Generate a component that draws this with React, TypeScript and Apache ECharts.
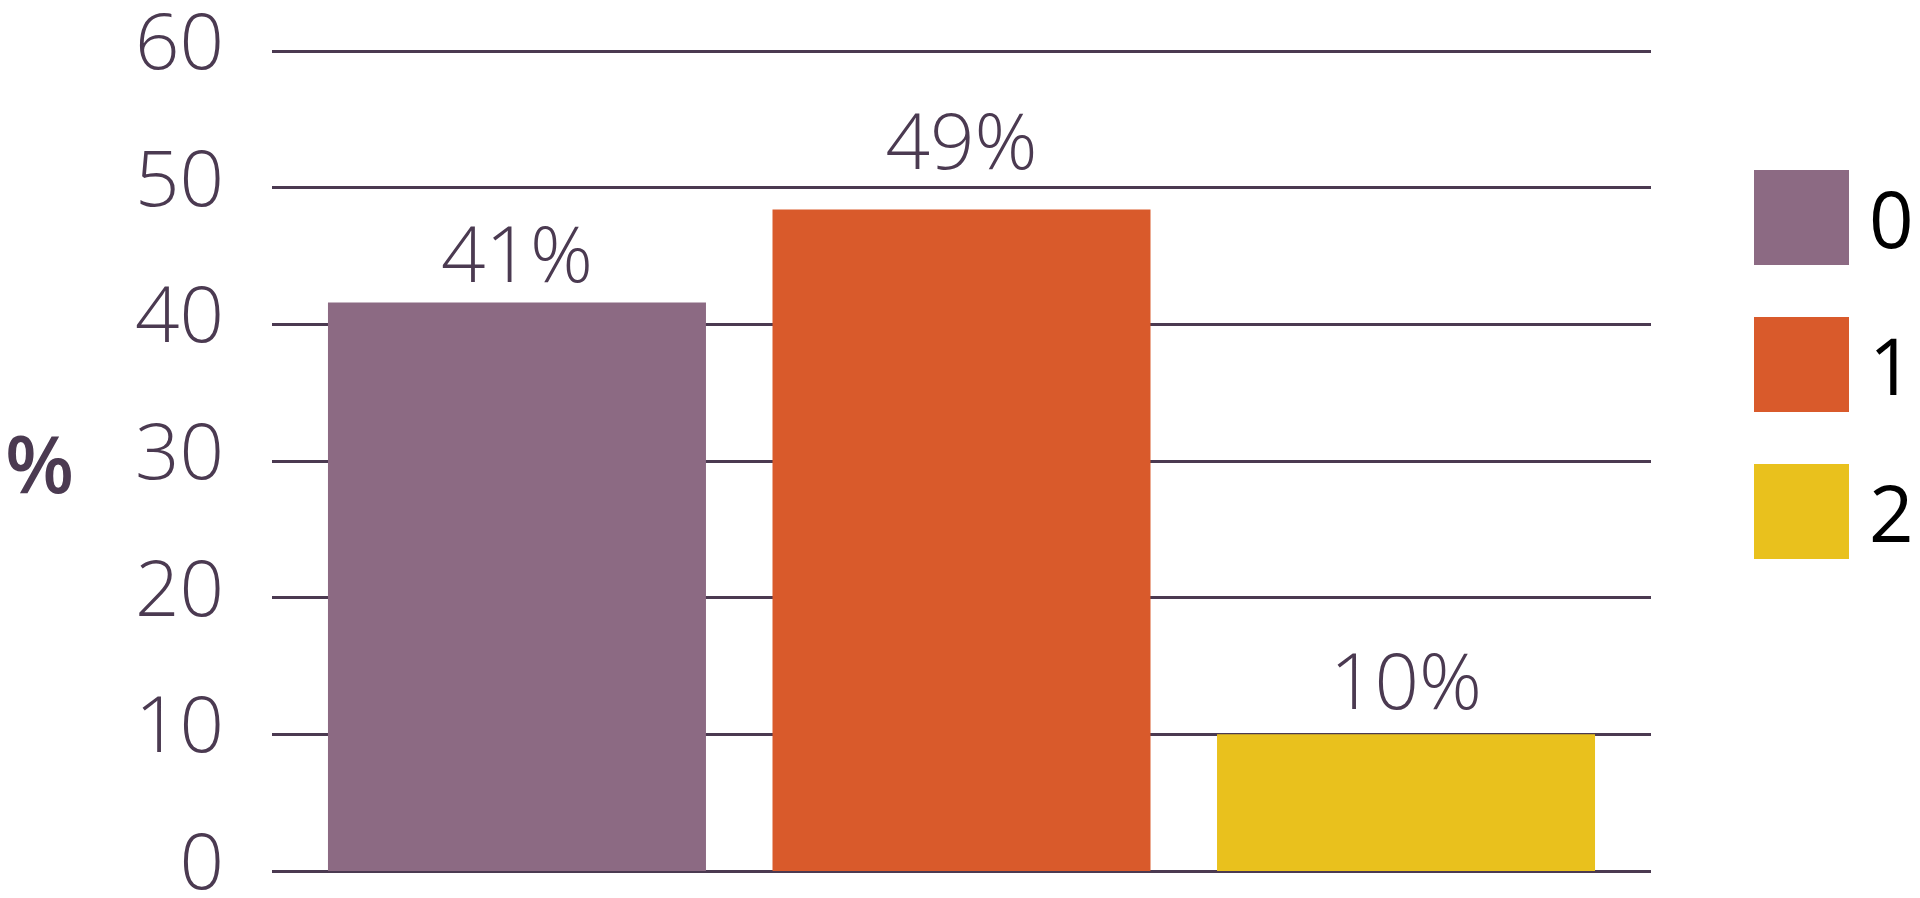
import React, { useEffect, useRef } from "react";
import * as echarts from "echarts";

const seriesNames = ["0", "1", "2"];
const seriesValues = [41.6, 48.4, 10.0];
const valueLabels = ["41%", "49%", "10%"];
const seriesColors = ["#8c6a83", "#d95a2b", "#e9c11d"];
const labelDistances = [11, 32, 16];
const yTicks = { min: 0, max: 60, interval: 10 };

const INK = "#4b3a51";
const FONT = "'Open Sans', sans-serif";

export default function App() {
  const ref = useRef<HTMLDivElement>(null);

  useEffect(() => {
    document.body.style.margin = "0";
    const chart = echarts.init(ref.current!, null, { renderer: "svg" });
    chart.setOption({
      animation: false,
      backgroundColor: "#ffffff",
      textStyle: { fontFamily: FONT },
      grid: { left: 272, right: 269, top: 42, bottom: 25, containLabel: false },
      legend: {
        orient: "vertical",
        left: 1749,
        top: 165,
        itemWidth: 95,
        itemHeight: 95,
        itemGap: 52,
        icon: "rect",
        selectedMode: false,
        data: seriesNames,
        textStyle: {
          fontFamily: FONT,
          fontSize: 78,
          color: "#000000",
          padding: [0, 0, 0, 15],
        },
      },
      xAxis: {
        type: "category",
        data: [""],
        axisLine: { show: false },
        axisTick: { show: false },
        axisLabel: { show: false },
        splitLine: { show: false },
      },
      yAxis: {
        type: "value",
        min: yTicks.min,
        max: yTicks.max,
        interval: yTicks.interval,
        name: "%",
        nameLocation: "middle",
        nameRotate: 0,
        nameGap: 198,
        nameTextStyle: {
          fontFamily: FONT,
          fontSize: 80,
          fontWeight: 600,
          color: INK,
          verticalAlign: "middle",
        },
        axisLine: { show: false },
        axisTick: { show: false },
        axisLabel: {
          fontFamily: FONT,
          fontSize: 78,
          fontWeight: 300,
          color: INK,
          margin: 48,
          verticalAlign: "bottom",
          lineHeight: 24,
        },
        splitLine: { show: true, lineStyle: { color: INK, width: 3 } },
      },
      series: seriesNames.map((name, i) => ({
        name,
        type: "bar",
        barWidth: 378,
        barGap: "17.6%",
        data: [seriesValues[i]],
        itemStyle: { color: seriesColors[i] },
        label: {
          show: true,
          position: "top",
          distance: labelDistances[i],
          formatter: () => valueLabels[i],
          fontFamily: FONT,
          fontSize: 78,
          fontWeight: 300,
          color: INK,
        },
      })),
    });
    return () => chart.dispose();
  }, []);

  return (
    <div
      ref={ref}
      style={{ position: "fixed", left: 0, top: 0, width: 1920, height: 898 }}
    />
  );
}
